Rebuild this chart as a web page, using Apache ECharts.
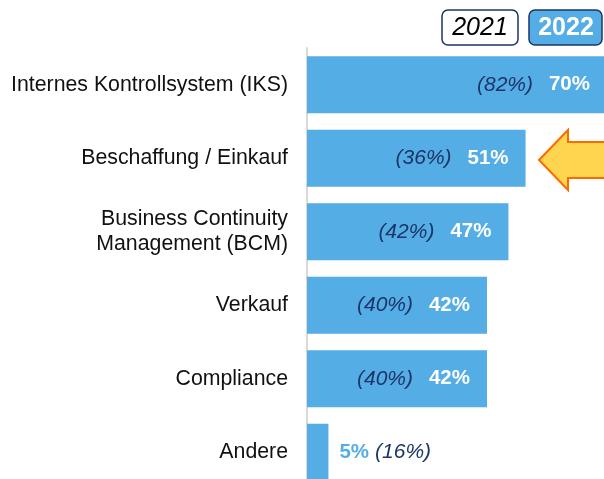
<!DOCTYPE html>
<html>
<head>
    <meta charset="UTF-8">
    <title>Bereiche</title>
    <script type="text/javascript" src="https://cdn.jsdelivr.net/npm/echarts@6/dist/echarts.min.js"></script>
    <style type="text/css">
        body { margin: 0; background: #fff; }
        #main { width: 604px; height: 479px; }
    </style>
</head>
<body>
<div id="main"></div>
<script>
// Werte aus der Grafik
var categories = ['Internes Kontrollsystem (IKS)', 'Beschaffung / Einkauf', 'Business Continuity\nManagement (BCM)', 'Verkauf', 'Compliance', 'Andere'];
var values2022 = [70, 51, 47, 42, 42, 5];
var values2021 = [82, 36, 42, 40, 40, 16];
var legendLabels = ['2021', '2022'];

var blue = '#55ADE6';
var navy = '#1B3568';
var font = 'Liberation Sans, Arial, sans-serif';

var seriesData = values2022.map(function (v, i) {
    var small = v < 20;
    return {
        value: v,
        label: {
            position: small ? 'right' : 'insideRight',
            distance: small ? 11 : 17,
            formatter: small
                ? '{o|' + v + '%}{s|}{p|(' + values2021[i] + '%)}'
                : '{p|(' + values2021[i] + '%)}{g|}{w|' + v + '%}'
        }
    };
});

var myChart = echarts.init(document.getElementById('main'));
myChart.setOption({
    animation: false,
    textStyle: { fontFamily: font },
    grid: { left: 307, top: 48, width: 300, height: 441, outerBoundsMode: 'none', containLabel: false },
    xAxis: {
        type: 'value', min: 0, max: 70, show: false
    },
    yAxis: {
        type: 'category',
        data: categories,
        inverse: true,
        axisLine: { show: true, lineStyle: { color: '#d9d9d9', width: 2 } },
        axisTick: { show: false },
        axisLabel: { color: '#111', fontSize: 21.3, margin: 19, lineHeight: 25, fontFamily: font }
    },
    series: [{
        type: 'bar',
        data: seriesData,
        barWidth: 57,
        itemStyle: { color: blue },
        label: {
            show: true,
            fontFamily: font,
            rich: {
                p: { color: navy, fontSize: 21, fontStyle: 'italic', fontFamily: font },
                g: { width: 16 },
                s: { width: 6 },
                w: { color: '#fff', fontSize: 20.5, fontWeight: 'bold', fontFamily: font },
                o: { color: blue, fontSize: 20.5, fontWeight: 'bold', fontFamily: font }
            }
        }
    }],
    graphic: [
        { type: 'rect', shape: { x: 442, y: 10, width: 76, height: 35, r: 6 },
          style: { fill: '#fff', stroke: navy, lineWidth: 1.5 } },
        { type: 'text', x: 480, y: 28,
          style: { text: legendLabels[0], fill: '#000', font: 'italic 25px ' + font, align: 'center', verticalAlign: 'middle' } },
        { type: 'rect', shape: { x: 529, y: 10, width: 73, height: 35, r: 6 },
          style: { fill: blue, stroke: navy, lineWidth: 1.5 } },
        { type: 'text', x: 566, y: 28,
          style: { text: legendLabels[1], fill: '#fff', font: 'bold 25px ' + font, align: 'center', verticalAlign: 'middle' } },
        { type: 'polygon',
          shape: { points: [[539, 160], [568, 130], [568, 142], [610, 142], [610, 178], [568, 178], [568, 190]] },
          style: { fill: '#FFD54F', stroke: '#FF6A00', lineWidth: 2 } }
    ]
});
</script>
</body>
</html>
